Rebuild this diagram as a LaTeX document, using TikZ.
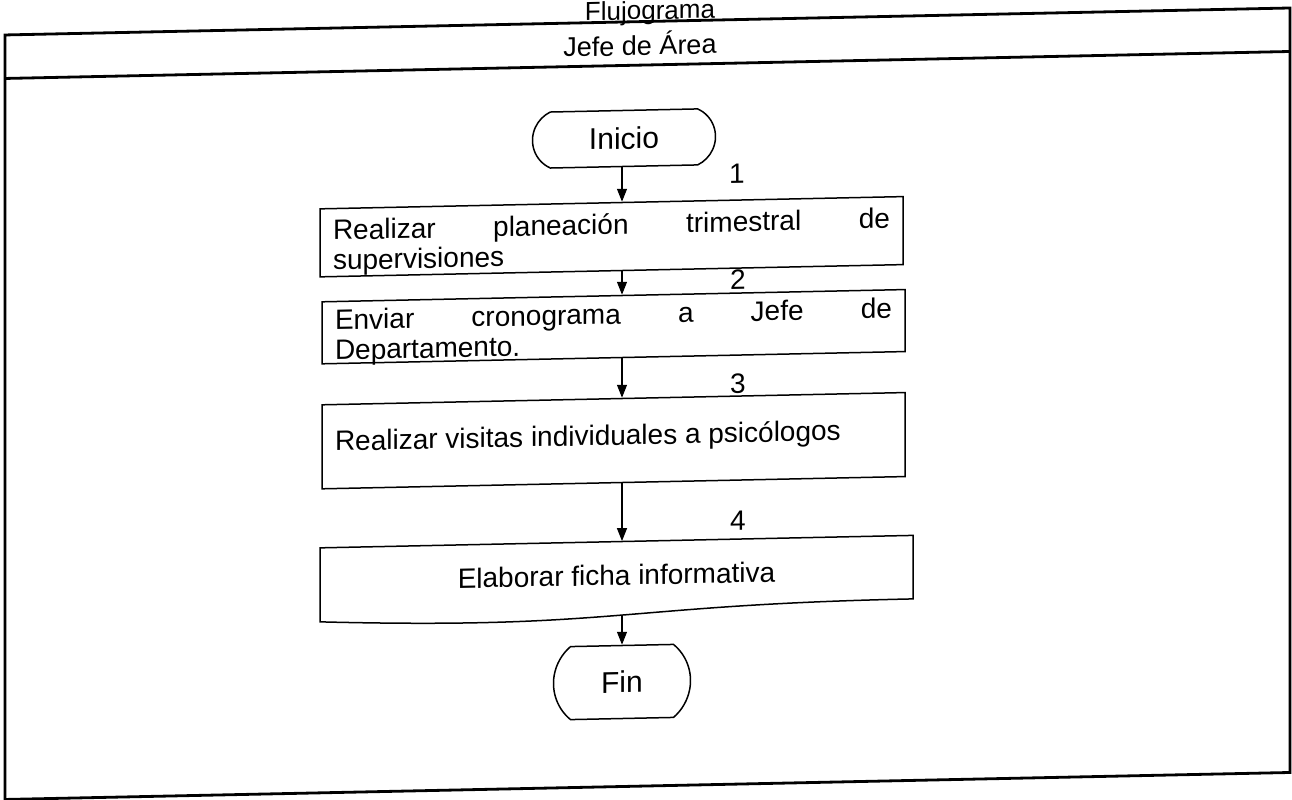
\documentclass[tikz,border=0pt]{standalone}
\usepackage{fontspec}
\setmainfont{Liberation Sans}
\usetikzlibrary{arrows.meta,shapes.misc}
\begin{document}
\begin{tikzpicture}[x=0.5pt,y=-0.5pt,
  every node/.style={font=\fontsize{14}{15}\selectfont},
  frame/.style={line width=1.4pt},
  proc/.style={draw, line width=0.75pt, rectangle, inner sep=0pt},
  term/.style={draw, line width=0.75pt, rounded rectangle, inner sep=0pt, font=\fontsize{15}{18}\selectfont},
  arr/.style={line width=0.6pt, -{Triangle[length=6.5pt,width=5pt]}},
  num/.style={anchor=south, inner sep=0pt}]
\useasboundingbox (0,0) rectangle (1292,799);
\begin{scope}[shift={(646,400)}, yslant=0.021, shift={(-646,-400)}, every node/.append style={transform shape}]
  % frame (swimlane)
  \node[anchor=base, font=\fontsize{13}{15}\selectfont] (title) at (650,19.5) {Flujograma};
  \draw[frame] (5,21.5) rectangle (1290,786);
  \draw[frame] (5,65) -- (1290,65);
  \node[font=\fontsize{13.5}{15}\selectfont] (jefe) at (640,43.5) {Jefe de Área};
  \coordinate (ax) at (622,0);
  % terminals and steps
  \node[term, rounded rectangle arc length=130, minimum width=91.5pt, minimum height=28pt] (inicio) at (624,138) {Inicio};
  \node[proc, minimum width=291.5pt, minimum height=34pt] (b1) at (611.5,236)
    {\raisebox{-2.5pt}[\height][\depth]{\parbox{278.5pt}{\makebox[278.5pt][s]{Realizar planeación trimestral de}\\supervisiones}}};
  \node[proc, minimum width=291.5pt, minimum height=31pt] (b2) at (613.5,326)
    {\raisebox{-2.5pt}[\height][\depth]{\parbox{278.5pt}{\makebox[278.5pt][s]{Enviar cronograma a Jefe de}\\Departamento.}}};
  \node[proc, minimum width=291.5pt, minimum height=42pt] (b3) at (613.5,440)
    {\raisebox{1.5pt}[\height][\depth]{\parbox{278.5pt}{Realizar visitas individuales a psicólogos}}};
  \node[minimum width=296.5pt, minimum height=33.5pt, inner sep=0pt] (b4) at (616.5,574.5) {Elaborar ficha informativa};
  \draw[line width=0.75pt] (320,541) -- (913,541) -- (913,604.5)
    .. controls (616.5,604.5) and (616.5,628.7) .. (320,615) -- cycle;
  \coordinate (b4out) at (622,614.7);
  \node[term, rounded rectangle arc length=100, minimum width=68.5pt, minimum height=36.5pt] (fin) at (622,681.5) {Fin};
  % step numbers
  \node[num] (n1) at (737,186) {1};
  \node[num] (n2) at (738,292) {2};
  \node[num] (n3) at (738,396) {3};
  \node[num] (n4) at (738,533) {4};
  % connectors
  \draw[arr] (inicio.south -| ax) -- (b1.north -| ax);
  \draw[arr] (b1.south -| ax) -- (b2.north -| ax);
  \draw[arr] (b2.south -| ax) -- (b3.north -| ax);
  \draw[arr] (b3.south -| ax) -- (b4.north -| ax);
  \draw[arr] (b4out) -- (fin.north -| ax);
\end{scope}
\end{tikzpicture}
\end{document}
